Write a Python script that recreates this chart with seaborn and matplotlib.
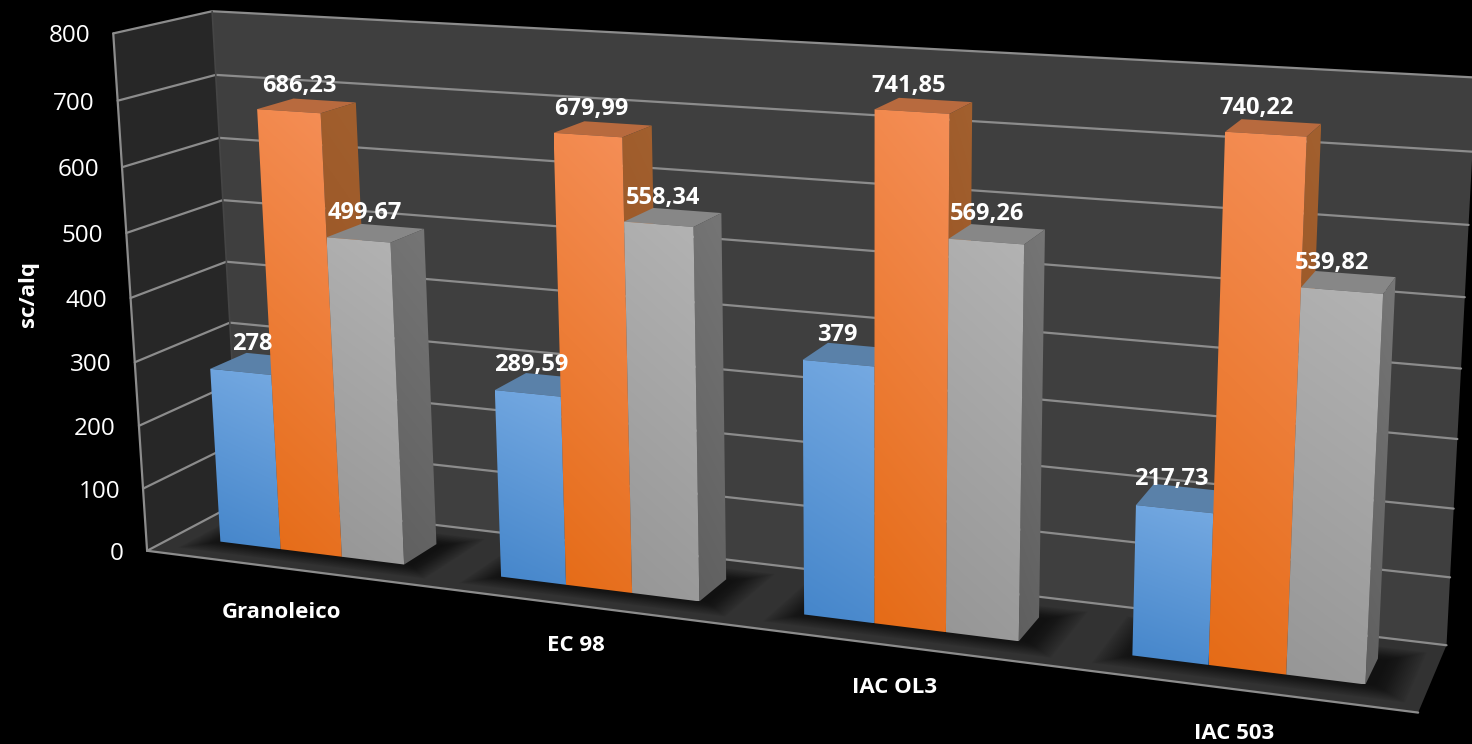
import numpy as np
import pandas as pd
import matplotlib
matplotlib.use('Agg')
import matplotlib.pyplot as plt
import seaborn as sns
from matplotlib.colors import to_rgb
from matplotlib.path import Path
from matplotlib.patches import Polygon
from matplotlib.transforms import Transform

cultivars = ['Granoleico', 'EC 98', 'IAC OL3', 'IAC 503']
serie_a = [278, 289.59, 379, 217.73]
serie_b = [686.23, 679.99, 741.85, 740.22]
serie_c = [499.67, 558.34, 569.26, 539.82]
y_ticks = [0, 100, 200, 300, 400, 500, 600, 700, 800]

sns.set_theme(style='dark')
plt.rcParams['font.family'] = ['Open Sans', 'DejaVu Sans']

df = pd.DataFrame({
    'cultivar': cultivars * 3,
    'valor': serie_a + serie_b + serie_c,
    'serie': ['a'] * 4 + ['b'] * 4 + ['c'] * 4,
})

# camera fitted on the corners of the chart box: (category x, value, depth) -> pixel
X0, X1 = -0.5, 3.5
box = [
    (X0, 0, 0, 147, 550), (X0, 800, 0, 113, 34), (X0, 0, 1, 240, 503),
    (X0, 800, 1, 212, 11), (X1, 0, 1, 1446, 644), (X1, 800, 1, 1476, 78),
    (X1, 0, 0, 1418, 714), (X0, 400, 0, 131, 297), (X1, 400, 1, 1462, 368),
]
A, b = [], []
for x, y, z, u, v in box:
    A.append([x, y, z, 1, 0, 0, 0, 0, -u * x, -u * y, -u * z])
    A.append([0, 0, 0, 0, x, y, z, 1, -v * x, -v * y, -v * z])
    b += [u, v]
cam = np.linalg.lstsq(np.array(A, float), np.array(b, float), rcond=None)[0]
cam = np.append(cam, 1).reshape(3, 4)


def project(x, y, z):
    x, y, z = np.broadcast_arrays(np.asarray(x, float), np.asarray(y, float), np.asarray(z, float))
    p = cam @ np.stack([x, y, z, np.ones_like(x)])
    return np.stack([p[0] / p[2], p[1] / p[2]], axis=-1)


class DepthPlane(Transform):
    input_dims = 2
    output_dims = 2
    is_affine = False

    def __init__(self, z):
        super().__init__()
        self.z = z

    def transform_non_affine(self, values):
        values = np.asarray(values)
        return project(values[:, 0], values[:, 1], self.z)


fig = plt.figure(figsize=(14.72, 7.44), dpi=100, facecolor='black')
ax = fig.add_axes([0, 0, 1, 1])
sns.barplot(data=df, x='cultivar', y='valor', hue='serie', width=0.663, gap=0,
            palette=['#5b9bd5', '#ed7d31', '#a5a5a5'], legend=False, ax=ax)


def fill_gradient(path, transform, bbox, top, bottom, zorder):
    yy, xx = np.mgrid[0:1:120j, 0:1:120j]
    t = (0.85 * yy + 0.15 * (1 - xx))[..., None]
    img = np.array(to_rgb(top)) * (1 - t) + np.array(to_rgb(bottom)) * t
    im = ax.imshow(img, extent=(bbox[0], bbox[1], bbox[3], bbox[2]), aspect='auto',
                   interpolation='bilinear', zorder=zorder)
    im.set_clip_path(path, transform)


def poly(pts, color, zorder, **kw):
    ax.add_patch(Polygon(pts, closed=True, facecolor=color, edgecolor='none', zorder=zorder, **kw))


# chart box
Y_TOP = y_ticks[-1]
floor = project([X0, X1, X1, X0], 0, [0, 0, 1, 1])
poly(project(X0, [0, Y_TOP, Y_TOP, 0], [0, 0, 1, 1]), '#272727', 1)
poly(project([X0, X1, X1, X0], [0, 0, Y_TOP, Y_TOP], 1), '#3f3f3f', 1)
poly(floor, '#323232', 1)

grid = dict(color='#8c8c8c', lw=1.6, zorder=2, solid_capstyle='round')
for v in y_ticks:
    pts = project([X0, X0, X1], v, [0, 1, 1])
    ax.plot(pts[:, 0], pts[:, 1], **grid)
pts = project(X0, [0, Y_TOP], 0)
ax.plot(pts[:, 0], pts[:, 1], **grid)
pts = project([X0, X1], 0, 0)
ax.plot(pts[:, 0], pts[:, 1], **grid)
pts = project(X0, [0, Y_TOP], 1)
ax.plot(pts[:, 0], pts[:, 1], color='#454545', lw=1.2, zorder=2)

Z0, Z1 = 0.29, 0.68
front_colors = [('#76aae2', '#4485ca'), ('#f58f58', '#e56b16'), ('#b3b3b3', '#969696')]
side_colors = [('#4f7398', '#44668a'), ('#a2602f', '#96501f'), ('#767676', '#5f5f5f')]
top_colors = ['#5a81a9', '#b86a3e', '#878787']
label_dx = [[-3, -9, -11, -10], [-4, -9, -13, -16], [-8, -8, -8, -15]]
front_plane = DepthPlane(Z0)

# soft shadow on the floor under every group
for i in range(len(cultivars)):
    bars = [c[i] for c in ax.containers]
    x0 = bars[0].get_x()
    x1 = bars[-1].get_x() + bars[-1].get_width()
    for k in range(18):
        dx = 0.0055 * k
        dz = 0.0105 * k
        p = project([x0 - dx, x1 + dx + 0.03, x1 + dx + 0.03, x0 - dx], 0,
                    [Z0 - dz, Z0 - dz, Z1 + dz, Z1 + dz])
        poly(p, 'black', 3, alpha=0.045)

for j, container in enumerate(ax.containers):
    for i, bar in enumerate(container):
        x0, w, h = bar.get_x(), bar.get_width(), bar.get_height()
        x1 = x0 + w
        z = 10 + 4 * i + j
        top = project([x0, x1, x1, x0], h, [Z0, Z0, Z1, Z1])
        side = project(x1, [0, h, h, 0], [Z0, Z0, Z1, Z1])
        poly(top, top_colors[j], z)
        box_s = (side[:, 0].min(), side[:, 0].max(), side[:, 1].min(), side[:, 1].max())
        fill_gradient(Path(np.vstack([side, side[:1]]), closed=True), ax.transData, box_s,
                      side_colors[j][0], side_colors[j][1], z)
        # seaborn's own bar becomes the front face, seen through the camera
        bar.set_transform(front_plane + ax.transData)
        bar.set_facecolor('none')
        bar.set_edgecolor('none')
        bar.set_zorder(z + 0.5)
        c = project([x0, x1, x1, x0], [0, 0, h, h], Z0)
        box_f = (c[:, 0].min(), c[:, 0].max(), c[:, 1].min(), c[:, 1].max())
        fill_gradient(bar.get_path(), bar.get_transform(), box_f,
                      front_colors[j][0], front_colors[j][1], z + 0.4)
        lx, ly = project(x0 + w / 2, h, 0.45)
        label = f'{h:.2f}'.replace('.', ',') if h != int(h) else str(int(h))
        ax.text(lx + label_dx[j][i], ly - 21, label, color='white', fontsize=17, fontweight='bold',
                ha='center', va='center', zorder=100)

for v in y_ticks:
    tx, ty = project(X0, v, 0)
    ax.text(tx - 23, ty + 3, str(v), color='white', fontsize=17.5, ha='right', va='center', zorder=100)

label_shift = [(-3, 44), (-1, 40), (2, 42), (-1, 44)]
for i, name in enumerate(cultivars):
    tx, ty = project(i, 0, 0)
    ax.text(tx + label_shift[i][0], ty + label_shift[i][1], name, color='white', fontsize=16,
            fontweight='bold', ha='center', va='center', zorder=100)

ax.text(29, 294, 'sc/alq', color='white', fontsize=16, fontweight='bold', rotation=90,
        ha='center', va='center', zorder=100)

ax.set_xlim(0, 1472)
ax.set_ylim(744, 0)
ax.set_axis_off()
fig.savefig('out.png', dpi=100, facecolor='black')
